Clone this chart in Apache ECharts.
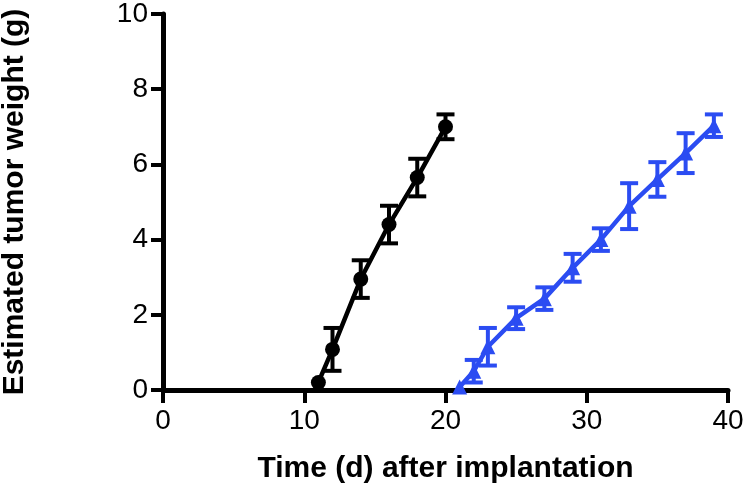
<!DOCTYPE html>
<html>
<head>
<meta charset="utf-8">
<script src="https://cdn.jsdelivr.net/npm/echarts@6/dist/echarts.min.js"></script>
<style>
html,body{margin:0;padding:0;background:#fff;}
#chart{width:745px;height:491px;}
</style>
</head>
<body>
<div id="chart"></div>
<script>
// Data
var blackDays = [11, 12, 14, 16, 18, 20];
var blackMean = [0.2, 1.08, 2.95, 4.4, 5.65, 7.0];
var blackErr  = [0, 0.57, 0.5, 0.5, 0.5, 0.33];

var blueDays = [21, 22, 23, 25, 27, 29, 31, 33, 35, 37, 39];
var blueMean = [0.08, 0.5, 1.15, 1.91, 2.43, 3.25, 4.0, 4.89, 5.6, 6.3, 7.03];
var blueErr  = [0, 0.3, 0.5, 0.29, 0.3, 0.37, 0.3, 0.61, 0.46, 0.53, 0.3];

var xTicks = [0, 10, 20, 30, 40];
var yTicks = [0, 2, 4, 6, 8, 10];

var BLACK = '#000000';
var BLUE = '#2B4CF2';
var FONT = 'Liberation Sans, Arial, Helvetica, sans-serif';

function pairs(xs, ys) { return xs.map(function (x, i) { return [x, ys[i]]; }); }
function errData(xs, ys, es) { return xs.map(function (x, i) { return [x, ys[i] - es[i], ys[i] + es[i]]; }); }

function errRender(color) {
  return function (params, api) {
    var x = api.value(0);
    if (api.value(2) - api.value(1) <= 0) { return { type: 'group', children: [] }; }
    var lo = api.coord([x, api.value(1)]);
    var hi = api.coord([x, api.value(2)]);
    var half = 9;
    var st = { stroke: color, lineWidth: 4, lineCap: 'butt' };
    return {
      type: 'group',
      children: [
        { type: 'line', shape: { x1: lo[0], y1: lo[1], x2: hi[0], y2: hi[1] }, style: st },
        { type: 'line', shape: { x1: hi[0] - half, y1: hi[1], x2: hi[0] + half, y2: hi[1] }, style: st },
        { type: 'line', shape: { x1: lo[0] - half, y1: lo[1], x2: lo[0] + half, y2: lo[1] }, style: st }
      ]
    };
  };
}

var chart = echarts.init(document.getElementById('chart'), null, { renderer: 'canvas' });
chart.setOption({
  animation: false,
  backgroundColor: '#fff',
  grid: { left: 163, right: 17, top: 14, bottom: 101, containLabel: false, outerBoundsMode: 'none' },
  xAxis: {
    type: 'value', min: xTicks[0], max: xTicks[xTicks.length - 1], interval: 10,
    name: 'Time (d) after implantation', nameLocation: 'middle', nameGap: 64,
    nameTextStyle: { fontFamily: FONT, fontWeight: 'bold', fontSize: 30, color: '#000' },
    axisLine: { show: true, onZero: false, lineStyle: { color: BLACK, width: 5 } },
    axisTick: { show: true, length: 13, lineStyle: { color: BLACK, width: 4 } },
    axisLabel: { fontFamily: FONT, fontSize: 28, color: '#000', margin: 17 },
    splitLine: { show: false }
  },
  yAxis: {
    type: 'value', min: yTicks[0], max: yTicks[yTicks.length - 1], interval: 2,
    name: 'Estimated tumor weight (g)', nameLocation: 'middle', nameGap: 133,
    nameTextStyle: { fontFamily: FONT, fontWeight: 'bold', fontSize: 30, color: '#000' },
    axisLine: { show: true, onZero: false, lineStyle: { color: BLACK, width: 5 } },
    axisTick: { show: true, length: 12, lineStyle: { color: BLACK, width: 4 } },
    axisLabel: { fontFamily: FONT, fontSize: 28, color: '#000', margin: 15 },
    splitLine: { show: false }
  },
  series: [
    {
      type: 'line', data: pairs(blackDays, blackMean),
      symbol: 'circle', symbolSize: 15,
      lineStyle: { color: BLACK, width: 4.5 }, itemStyle: { color: BLACK },
      z: 3
    },
    {
      type: 'custom', data: errData(blackDays, blackMean, blackErr),
      renderItem: errRender(BLACK), encode: { x: 0, y: [1, 2] }, z: 4
    },
    {
      type: 'line', data: pairs(blueDays, blueMean),
      symbol: 'triangle', symbolSize: 15,
      lineStyle: { color: BLUE, width: 4.5 }, itemStyle: { color: BLUE },
      z: 3
    },
    {
      type: 'custom', data: errData(blueDays, blueMean, blueErr),
      renderItem: errRender(BLUE), encode: { x: 0, y: [1, 2] }, z: 4
    }
  ]
});
</script>
</body>
</html>
